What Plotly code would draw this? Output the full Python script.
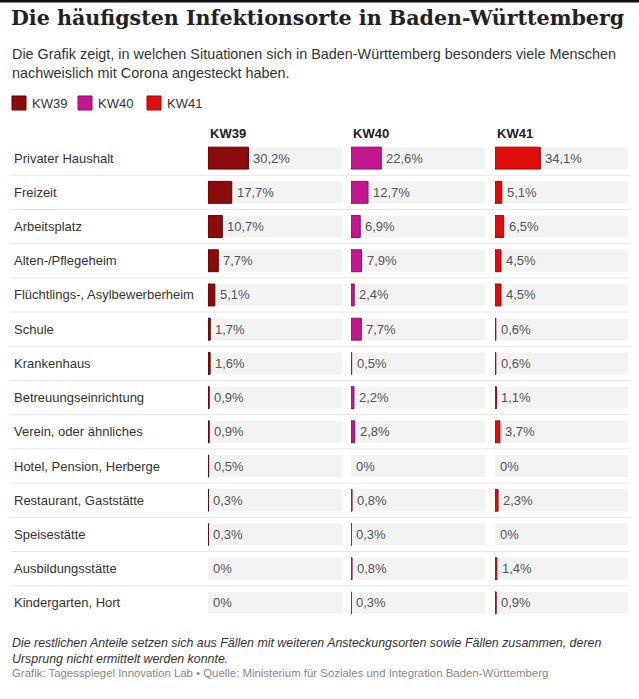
"""
Die häufigsten Infektionsorte in Baden-Württemberg - Plotly-Nachbau
"""

import plotly.graph_objects as go

# --- Daten ---
categories = [
    "Privater Haushalt",
    "Freizeit",
    "Arbeitsplatz",
    "Alten-/Pflegeheim",
    "Flüchtlings-, Asylbewerberheim",
    "Schule",
    "Krankenhaus",
    "Betreuungseinrichtung",
    "Verein, oder ähnliches",
    "Hotel, Pension, Herberge",
    "Restaurant, Gaststätte",
    "Speisestätte",
    "Ausbildungsstätte",
    "Kindergarten, Hort",
]
weeks = ["KW39", "KW40", "KW41"]
kw39 = [30.2, 17.7, 10.7, 7.7, 5.1, 1.7, 1.6, 0.9, 0.9, 0.5, 0.3, 0.3, 0, 0]
kw40 = [22.6, 12.7, 6.9, 7.9, 2.4, 7.7, 0.5, 2.2, 2.8, 0, 0.8, 0.3, 0.8, 0.3]
kw41 = [34.1, 5.1, 6.5, 4.5, 4.5, 0.6, 0.6, 1.1, 3.7, 0, 2.3, 0, 1.4, 0.9]
scale_max = 100

# --- Stil ---
W, H = 639, 699
fills = ["#8c0b0b", "#c4168f", "#e00b0b"]
edges = ["#5e0303", "#8e0f66", "#a30606"]
col_px = [(208, 342), (351, 485), (495, 628)]  # Spalten in Pixeln
rows_top, rows_bottom = 141, 620
sans = "Liberation Sans"


def px(x):
    return x / W


def py(y):
    return 1 - y / H


def fmt(v):
    return "0%" if v == 0 else f"{v:.1f}".replace(".", ",") + "%"


fig = go.Figure()
annotations = []
shapes = []

for i, (week, vals) in enumerate(zip(weeks, [kw39, kw40, kw41])):
    xa = "x" if i == 0 else f"x{i + 1}"
    # grauer Hintergrundbalken
    fig.add_trace(go.Bar(
        x=[scale_max] * len(categories), y=categories, orientation="h",
        xaxis=xa, yaxis="y", width=0.64,
        marker=dict(color="#f3f3f3", line=dict(width=0)),
        hoverinfo="skip", showlegend=False,
    ))
    fig.add_trace(go.Bar(
        x=vals, y=categories, orientation="h", name=week,
        xaxis=xa, yaxis="y", width=0.64,
        marker=dict(color=fills[i],
                    line=dict(color=edges[i], width=[0 if v == 0 else 1 for v in vals])),
        showlegend=False,
    ))
    for cat, v in zip(categories, vals):
        annotations.append(dict(
            x=v, y=cat, xref=xa, yref="y", text=fmt(v), showarrow=False,
            xanchor="left", xshift=3, font=dict(family=sans, size=13, color="#555555"),
        ))
    annotations.append(dict(
        x=px(col_px[i][0]), y=py(134), xref="paper", yref="paper", text=f"<b>{week}</b>",
        showarrow=False, xanchor="left", yanchor="middle",
        font=dict(family=sans, size=13, color="#222222"),
    ))

# Zeilenbeschriftungen
for cat in categories:
    annotations.append(dict(
        x=px(12), y=cat, xref="paper", yref="y", text=cat, showarrow=False,
        xanchor="left", font=dict(family=sans, size=13, color="#333333"),
    ))

# Trennlinien zwischen den Zeilen
for k in range(len(categories) - 1):
    shapes.append(dict(
        type="line", xref="paper", yref="y", x0=px(10), x1=px(630), y0=k + 0.5, y1=k + 0.5,
        line=dict(color="#e6e6e6", width=1),
    ))

# schwarze Linie oben
shapes.append(dict(type="line", xref="paper", yref="paper", x0=0, x1=1, y0=py(1), y1=py(1),
                   line=dict(color="#111111", width=3)))

# Legende
legend_x = [12, 78, 147]
for i, week in enumerate(weeks):
    shapes.append(dict(
        type="rect", xref="paper", yref="paper",
        x0=px(legend_x[i]), x1=px(legend_x[i] + 14), y0=py(110), y1=py(96),
        fillcolor=fills[i], line=dict(color=edges[i], width=1),
    ))
    annotations.append(dict(
        x=px(legend_x[i] + 18), y=py(103), xref="paper", yref="paper", text=week,
        showarrow=False, xanchor="left", yanchor="middle",
        font=dict(family=sans, size=13, color="#333333"),
    ))

# Titel, Untertitel, Fußnoten
annotations += [
    dict(x=px(9), y=py(18), xref="paper", yref="paper",
         text="<b>Die häufigsten Infektionsorte in Baden-Württemberg</b>",
         showarrow=False, xanchor="left", yanchor="middle",
         font=dict(family="DejaVu Serif", size=20.6, color="#222222")),
    dict(x=px(10), y=py(63), xref="paper", yref="paper",
         text="Die Grafik zeigt, in welchen Situationen sich in Baden-Württemberg besonders viele Menschen"
              "<br>nachweislich mit Corona angesteckt haben.",
         showarrow=False, xanchor="left", yanchor="middle", align="left",
         font=dict(family=sans, size=14.4, color="#333333")),
    dict(x=px(10), y=py(651), xref="paper", yref="paper",
         text="<i>Die restlichen Anteile setzen sich aus Fällen mit weiteren Ansteckungsorten sowie Fällen zusammen, deren"
              "<br>Ursprung nicht ermittelt werden konnte.</i>",
         showarrow=False, xanchor="left", yanchor="middle", align="left",
         font=dict(family=sans, size=12.4, color="#333333")),
    dict(x=px(10), y=py(673), xref="paper", yref="paper",
         text="Grafik: Tagesspiegel Innovation Lab • Quelle: Ministerium für Soziales und Integration Baden-Württemberg",
         showarrow=False, xanchor="left", yanchor="middle",
         font=dict(family=sans, size=11.4, color="#888888")),
]

axis_common = dict(range=[0, scale_max], showgrid=False, zeroline=False,
                   showticklabels=False, fixedrange=True, anchor="y")

fig.update_layout(
    width=W, height=H,
    margin=dict(l=0, r=0, t=0, b=0),
    paper_bgcolor="white", plot_bgcolor="white",
    barmode="overlay",
    xaxis=dict(domain=[px(col_px[0][0]), px(col_px[0][1])], **axis_common),
    xaxis2=dict(domain=[px(col_px[1][0]), px(col_px[1][1])], **axis_common),
    xaxis3=dict(domain=[px(col_px[2][0]), px(col_px[2][1])], **axis_common),
    yaxis=dict(domain=[py(rows_bottom), py(rows_top)], range=[len(categories) - 0.5, -0.5],
               showticklabels=False, showgrid=False, zeroline=False, fixedrange=True),
    annotations=annotations,
    shapes=shapes,
)

# Seitenrand des Browsers entfernen, damit die Grafik bei (0, 0) beginnt
fig.write_html("out.html", config={"displayModeBar": False},
               post_script="document.body.style.margin = '0';")
